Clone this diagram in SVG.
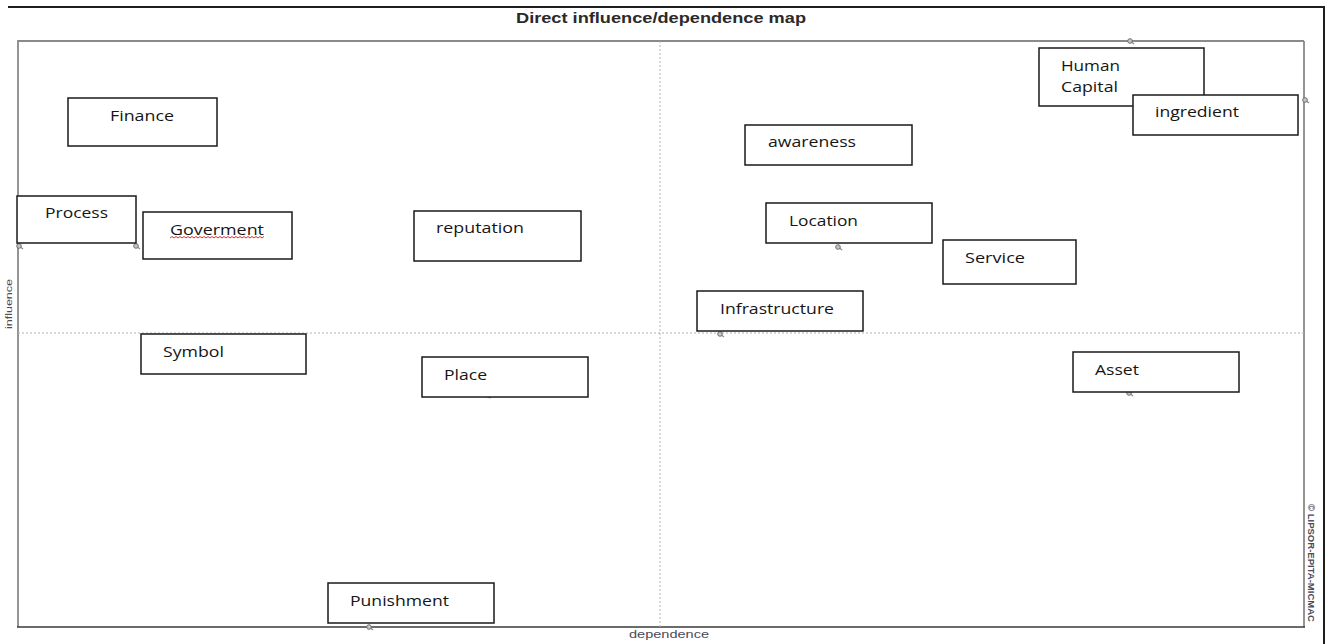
<svg xmlns="http://www.w3.org/2000/svg" width="1328" height="644" viewBox="0 0 1328 644">
  <style>
    .node rect { fill: #ffffff; stroke: #1a1a1a; stroke-width: 1.5; }
    .node text { font-family: "Open Sans", "Liberation Sans", sans-serif; font-size: 14.5px; fill: #151515; }
    .axis { stroke: #b0b0b0; stroke-width: 1; stroke-dasharray: 2 2; fill: none; }
    .frame { fill: none; stroke: #8a8a8a; stroke-width: 1.8; }
    .mk circle { fill: #c8c8b8; stroke: #6e6e6e; stroke-width: 1; }
    .mk line { stroke: #8a8a8a; stroke-width: 1.2; }
    .small { font-family: "Liberation Sans", Arial, sans-serif; fill: #4a4a5a; }
  </style>
  <rect x="0" y="0" width="1328" height="644" fill="#ffffff"/>

  <!-- outer frame -->
  <line x1="8" y1="7" x2="1325" y2="7" stroke="#1e1e1e" stroke-width="2"/>
  <line x1="1324" y1="7" x2="1324" y2="644" stroke="#1e1e1e" stroke-width="2"/>
  <text x="661" y="23" text-anchor="middle" font-family="'Liberation Sans', Arial, sans-serif" font-weight="bold" font-size="15" fill="#2a2a2a" textLength="290" lengthAdjust="spacingAndGlyphs">Direct influence/dependence map</text>

  <!-- plot area -->
  <g id="plot">
    <line class="frame" x1="18" y1="41" x2="1304" y2="41"/>
    <line class="frame" x1="1304" y1="41" x2="1304" y2="627"/>
    <line class="frame" x1="18" y1="40" x2="18" y2="627" stroke-width="2.4"/>
    <line x1="17" y1="627" x2="1305" y2="627" stroke="#3a3a3a" stroke-width="1.6"/>
    <line class="axis" x1="18" y1="333" x2="1304" y2="333"/>
    <line class="axis" x1="660" y1="41" x2="660" y2="627"/>
    <text class="small" x="669" y="638" text-anchor="middle" font-size="11" textLength="80" lengthAdjust="spacingAndGlyphs">dependence</text>
    <text class="small" transform="translate(12,304) rotate(-90)" text-anchor="middle" font-size="9" textLength="50" lengthAdjust="spacingAndGlyphs">influence</text>
    <text class="small" transform="translate(1308,563) rotate(90)" text-anchor="middle" font-size="8.5" font-weight="bold" textLength="118" lengthAdjust="spacingAndGlyphs">© LIPSOR-EPITA-MICMAC</text>
  </g>

  <!-- point markers -->
  <g id="markers" class="mk">
    <g><line x1="1130" y1="41" x2="1134" y2="44"/><circle cx="1130" cy="41" r="2.3"/></g>
    <g><line x1="1305" y1="100" x2="1309" y2="103"/><circle cx="1305" cy="100" r="2.3"/></g>
    <g><line x1="19" y1="246" x2="23" y2="249"/><circle cx="19" cy="246" r="2.3"/></g>
    <g><line x1="136" y1="246" x2="140" y2="249"/><circle cx="136" cy="246" r="2.3"/></g>
    <g><line x1="838" y1="247" x2="842" y2="250"/><circle cx="838" cy="247" r="2.3"/></g>
    <g><line x1="720" y1="334" x2="724" y2="337"/><circle cx="720" cy="334" r="2.3"/></g>
    <g><line x1="1129" y1="393" x2="1133" y2="396"/><circle cx="1129" cy="393" r="2.3"/></g>
    <g><line x1="369" y1="627" x2="373" y2="630"/><circle cx="369" cy="627" r="2.3"/></g>
    <g><line x1="487" y1="397" x2="491" y2="398"/></g>
  </g>

  <!-- nodes -->
  <g id="node-finance" class="node">
    <rect x="68" y="98" width="149" height="48"/>
    <text x="110" y="121" textLength="64" lengthAdjust="spacingAndGlyphs">Finance</text>
  </g>
  <g id="node-process" class="node">
    <rect x="17" y="196" width="119" height="47"/>
    <text x="45" y="218" textLength="63" lengthAdjust="spacingAndGlyphs">Process</text>
  </g>
  <g id="node-goverment" class="node">
    <rect x="143" y="212" width="149" height="47"/>
    <text x="170" y="235" textLength="94" lengthAdjust="spacingAndGlyphs">Goverment</text>
    <path d="M170 238 l2 -1.5 l2 1.5 l2 -1.5 l2 1.5 l2 -1.5 l2 1.5 l2 -1.5 l2 1.5 l2 -1.5 l2 1.5 l2 -1.5 l2 1.5 l2 -1.5 l2 1.5 l2 -1.5 l2 1.5 l2 -1.5 l2 1.5 l2 -1.5 l2 1.5 l2 -1.5 l2 1.5 l2 -1.5 l2 1.5 l2 -1.5 l2 1.5 l2 -1.5 l2 1.5 l2 -1.5 l2 1.5 l2 -1.5 l2 1.5 l2 -1.5 l2 1.5 l2 -1.5 l2 1.5 l2 -1.5 l2 1.5 l2 -1.5 l2 1.5 l2 -1.5 l2 1.5 l2 -1.5 l2 1.5 l2 -1.5 l2 1.5 l2 -1.5" fill="none" stroke="#e03030" stroke-width="1"/>
  </g>
  <g id="node-reputation" class="node">
    <rect x="414" y="211" width="167" height="50"/>
    <text x="436" y="233" textLength="88" lengthAdjust="spacingAndGlyphs">reputation</text>
  </g>
  <g id="node-awareness" class="node">
    <rect x="745" y="125" width="167" height="40"/>
    <text x="768" y="147" textLength="88" lengthAdjust="spacingAndGlyphs">awareness</text>
  </g>
  <g id="node-location" class="node">
    <rect x="766" y="203" width="166" height="40"/>
    <text x="789" y="226" textLength="69" lengthAdjust="spacingAndGlyphs">Location</text>
  </g>
  <g id="node-service" class="node">
    <rect x="943" y="240" width="133" height="44"/>
    <text x="965" y="263" textLength="60" lengthAdjust="spacingAndGlyphs">Service</text>
  </g>
  <g id="node-infrastructure" class="node">
    <rect x="697" y="291" width="166" height="40"/>
    <text x="720" y="314" textLength="114" lengthAdjust="spacingAndGlyphs">Infrastructure</text>
  </g>
  <g id="node-human-capital" class="node">
    <rect x="1039" y="48" width="165" height="58"/>
    <text x="1061" y="71" textLength="59" lengthAdjust="spacingAndGlyphs">Human</text>
    <text x="1061" y="92" textLength="57" lengthAdjust="spacingAndGlyphs">Capital</text>
  </g>
  <g id="node-ingredient" class="node">
    <rect x="1133" y="95" width="165" height="40"/>
    <text x="1155" y="117" textLength="84" lengthAdjust="spacingAndGlyphs">ingredient</text>
  </g>
  <g id="node-symbol" class="node">
    <rect x="141" y="334" width="165" height="40"/>
    <text x="163" y="357" textLength="61" lengthAdjust="spacingAndGlyphs">Symbol</text>
  </g>
  <g id="node-place" class="node">
    <rect x="422" y="357" width="166" height="40"/>
    <text x="444" y="380" textLength="43" lengthAdjust="spacingAndGlyphs">Place</text>
  </g>
  <g id="node-asset" class="node">
    <rect x="1073" y="352" width="166" height="40"/>
    <text x="1095" y="375" textLength="44" lengthAdjust="spacingAndGlyphs">Asset</text>
  </g>
  <g id="node-punishment" class="node">
    <rect x="328" y="583" width="166" height="40"/>
    <text x="350" y="606" textLength="99" lengthAdjust="spacingAndGlyphs">Punishment</text>
  </g>

  <g id="connectors"></g>
</svg>
